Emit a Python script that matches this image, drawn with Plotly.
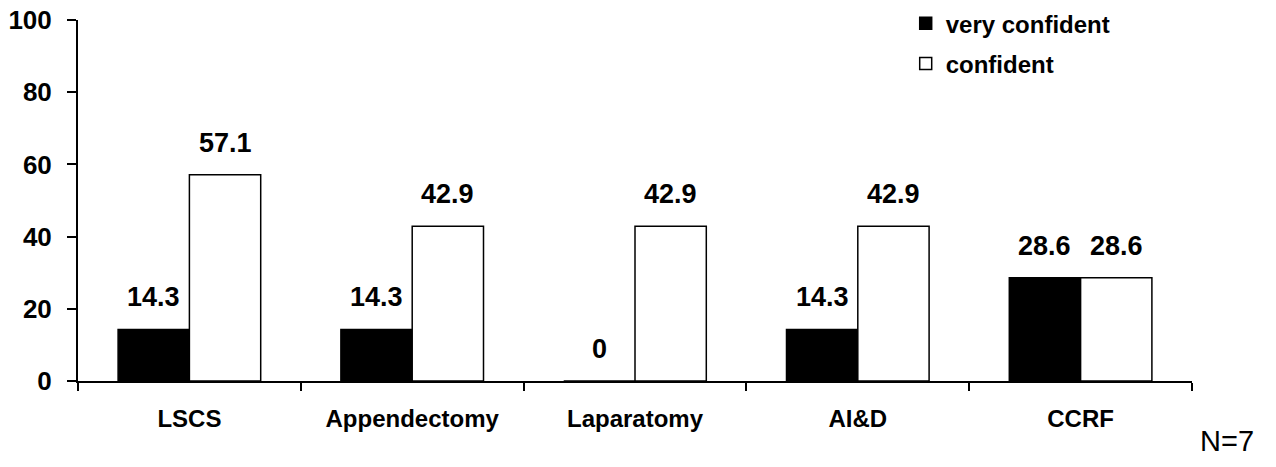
import plotly.graph_objects as go

# Surgical procedures and percentage of respondents per confidence level
procedures = ["LSCS", "Appendectomy", "Laparatomy", "AI&D", "CCRF"]
very_confident = [14.3, 14.3, 0, 14.3, 28.6]
confident = [57.1, 42.9, 42.9, 42.9, 28.6]
y_ticks = [0, 20, 40, 60, 80, 100]
sample_note = "N=7"

FONT = "Liberation Sans, Arial, sans-serif"
W, H = 1276, 467
MARGIN = dict(l=78, r=84, t=20, b=86, autoexpand=False)
BARGAP = 0.36

fig = go.Figure()
fig.add_trace(go.Bar(
    x=procedures, y=very_confident, name="very confident",
    marker=dict(color="black", line=dict(color="black", width=1.5)),
    legendgroup="a",
))
fig.add_trace(go.Bar(
    x=procedures, y=confident, name="confident",
    marker=dict(color="white", line=dict(color="black", width=1.5)),
    legendgroup="b",
))

# value labels above each bar, offset horizontally onto each bar of the pair
plot_w = W - MARGIN["l"] - MARGIN["r"]
cat_w = plot_w / len(procedures)
bar_w = cat_w * (1 - BARGAP) / 2
annotations = []
for series, dx in ((very_confident, -bar_w / 2), (confident, bar_w / 2)):
    for cat, v in zip(procedures, series):
        annotations.append(dict(
            x=cat, y=v, xref="x", yref="y", text=f"{v:g}",
            showarrow=False, yanchor="bottom", xanchor="center",
            xshift=dx, yshift=15,
            font=dict(family=FONT, size=27, color="black", weight="bold"),
        ))
annotations.append(dict(
    x=1.0054, y=-0.116, xref="paper", yref="paper", text=sample_note,
    showarrow=False, xanchor="left", yanchor="top",
    font=dict(family=FONT, size=29, color="black"),
))

fig.update_layout(
    width=W, height=H, margin=MARGIN,
    paper_bgcolor="white", plot_bgcolor="white",
    barmode="group", bargap=BARGAP, bargroupgap=0,
    font=dict(family=FONT, color="black"),
    showlegend=True,
    legend=dict(
        x=0.743, xanchor="left", y=1.052, yanchor="top",
        font=dict(family=FONT, size=24, color="black", weight="bold"),
        traceorder="grouped", tracegroupgap=6,
        itemwidth=30, bgcolor="rgba(0,0,0,0)",
    ),
    annotations=annotations,
    xaxis=dict(
        type="category", showline=True, linecolor="black", linewidth=2,
        ticks="outside", tickson="boundaries", ticklen=8, tickwidth=2,
        tickcolor="black", showgrid=False,
        tickfont=dict(family=FONT, size=24, color="black", weight="bold"),
        ticklabelstandoff=15,
    ),
    yaxis=dict(
        range=[0, 100], tickvals=y_ticks, showline=True, linecolor="black",
        linewidth=2, ticks="outside", ticklen=9, tickwidth=2,
        tickcolor="black", showgrid=False, zeroline=False,
        tickfont=dict(family=FONT, size=26, color="black", weight="bold"),
        ticklabelstandoff=10,
    ),
)

fig.write_html("out.html")
